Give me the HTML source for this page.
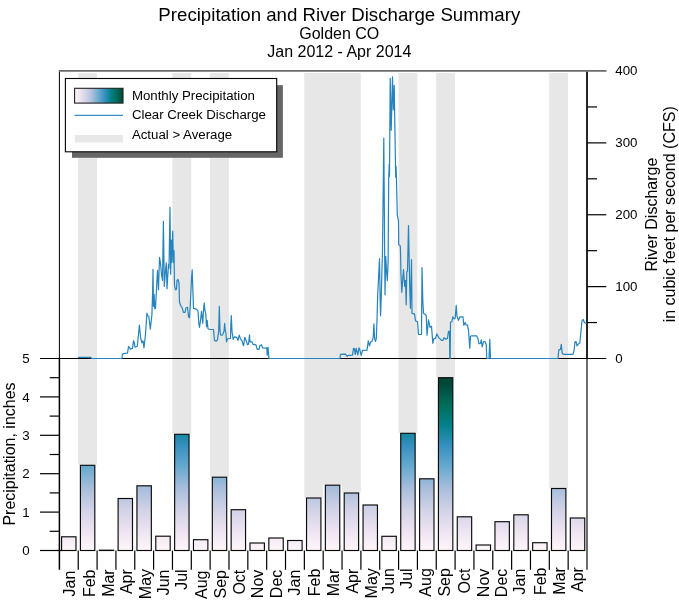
<!DOCTYPE html>
<html lang="en"><head><meta charset="utf-8"><title>Precipitation and River Discharge Summary</title>
<style>
html,body{margin:0;padding:0;background:#fff;}
body{width:679px;height:600px;overflow:hidden;}
svg{display:block;}
text{font-family:"Liberation Sans",Arial,Helvetica,sans-serif;fill:#000;}
.t1{font-size:18.67px;}
.t2{font-size:16px;}
.tk{font-size:13.33px;}
.lg{font-size:13.25px;}
.ax{font-size:16px;}
</style></head><body>
<svg width="679" height="600" viewBox="0 0 679 600">
<defs>
<linearGradient id="gv" gradientUnits="userSpaceOnUse" x1="0" y1="550.5" x2="0" y2="383"><stop offset="0.0" stop-color="#fff7fb"/><stop offset="0.125" stop-color="#ece2f0"/><stop offset="0.25" stop-color="#d0d1e6"/><stop offset="0.375" stop-color="#a6bddb"/><stop offset="0.5" stop-color="#67a9cf"/><stop offset="0.625" stop-color="#3690c0"/><stop offset="0.75" stop-color="#02818a"/><stop offset="0.875" stop-color="#016c59"/><stop offset="1.0" stop-color="#014636"/></linearGradient>
<linearGradient id="gh" x1="0" y1="0" x2="1" y2="0"><stop offset="0.0" stop-color="#fff7fb"/><stop offset="0.125" stop-color="#ece2f0"/><stop offset="0.25" stop-color="#d0d1e6"/><stop offset="0.375" stop-color="#a6bddb"/><stop offset="0.5" stop-color="#67a9cf"/><stop offset="0.625" stop-color="#3690c0"/><stop offset="0.75" stop-color="#02818a"/><stop offset="0.875" stop-color="#016c59"/><stop offset="1.0" stop-color="#014636"/></linearGradient>
</defs>
<rect x="0" y="0" width="679" height="600" fill="#ffffff"/>
<text class="t1" x="339.3" y="21.3" text-anchor="middle">Precipitation and River Discharge Summary</text>
<text class="t2" x="339.3" y="39.3" text-anchor="middle">Golden CO</text>
<text class="t2" x="339.3" y="56.8" text-anchor="middle">Jan 2012 - Apr 2014</text>
<path d="M78.14 73 H96.99 V464.8 H78.14 Z" fill="#e7e7e7"/>
<path d="M172.36 73 H191.2 V433.8 H172.36 Z" fill="#e7e7e7"/>
<path d="M210.04 73 H228.89 V476.7 H210.04 Z" fill="#e7e7e7"/>
<path d="M304.26 73 H360.79 V492.5 H341.94 V484.7 H323.1 V497.5 H304.26 Z" fill="#e7e7e7"/>
<path d="M398.47 73 H417.31 V432.8 H398.47 Z" fill="#e7e7e7"/>
<path d="M436.16 73 H455 V377.2 H436.16 Z" fill="#e7e7e7"/>
<path d="M549.21 73 H568.06 V488 H549.21 Z" fill="#e7e7e7"/>
<g fill="url(#gv)" stroke="#0a0a0a" stroke-width="1.15">
<rect x="61.57" y="536.8" width="14.4" height="13.7"/>
<rect x="80.41" y="465.3" width="14.4" height="85.2"/>
<rect x="99.26" y="550.2" width="14.4" height="0.3"/>
<rect x="118.1" y="498.5" width="14.4" height="52"/>
<rect x="136.94" y="485.8" width="14.4" height="64.7"/>
<rect x="155.79" y="536.2" width="14.4" height="14.3"/>
<rect x="174.63" y="434.3" width="14.4" height="116.2"/>
<rect x="193.47" y="539.7" width="14.4" height="10.8"/>
<rect x="212.31" y="477.2" width="14.4" height="73.3"/>
<rect x="231.16" y="509.7" width="14.4" height="40.8"/>
<rect x="250" y="543" width="14.4" height="7.5"/>
<rect x="268.84" y="538" width="14.4" height="12.5"/>
<rect x="287.69" y="540.5" width="14.4" height="10"/>
<rect x="306.53" y="498" width="14.4" height="52.5"/>
<rect x="325.37" y="485.2" width="14.4" height="65.3"/>
<rect x="344.21" y="493" width="14.4" height="57.5"/>
<rect x="363.06" y="505" width="14.4" height="45.5"/>
<rect x="381.9" y="536.3" width="14.4" height="14.2"/>
<rect x="400.74" y="433.3" width="14.4" height="117.2"/>
<rect x="419.59" y="478.8" width="14.4" height="71.7"/>
<rect x="438.43" y="377.7" width="14.4" height="172.8"/>
<rect x="457.27" y="516.8" width="14.4" height="33.7"/>
<rect x="476.11" y="545" width="14.4" height="5.5"/>
<rect x="494.96" y="521.7" width="14.4" height="28.8"/>
<rect x="513.8" y="514.8" width="14.4" height="35.7"/>
<rect x="532.64" y="542.7" width="14.4" height="7.8"/>
<rect x="551.49" y="488.5" width="14.4" height="62"/>
<rect x="570.33" y="518" width="14.4" height="32.5"/>
</g>
<g stroke="#000" stroke-width="1.2" fill="none">
<path d="M58.8 70.9 H606.5" stroke="#6d696d" stroke-width="1.8"/>
<path d="M59.4 71.8 V358.5" stroke-width="1.0"/>
<path d="M59.4 358.5 V569.8" stroke-width="1.5"/>
<path d="M587 71.8 V358.5" stroke-width="1.7"/>
<path d="M587 358.5 V569.8" stroke-width="1.15"/>
<path d="M40 358.5 H606.3" stroke-width="1.15"/>
<path d="M40 550.5 H61.9"/>
<path d="M587 322.56 H597"/>
<path d="M587 286.62 H606.3"/>
<path d="M587 250.69 H597"/>
<path d="M587 214.75 H606.3"/>
<path d="M587 178.81 H597"/>
<path d="M587 142.88 H606.3"/>
<path d="M587 106.94 H597"/>
<path d="M49.7 531.3 H59.4"/>
<path d="M40 512.1 H59.4"/>
<path d="M49.7 492.9 H59.4"/>
<path d="M40 473.7 H59.4"/>
<path d="M49.7 454.5 H59.4"/>
<path d="M40 435.3 H59.4"/>
<path d="M49.7 416.1 H59.4"/>
<path d="M40 396.9 H59.4"/>
<path d="M49.7 377.7 H59.4"/>
<path d="M78.24 550.5 V569.8"/>
<path d="M97.09 550.5 V569.8"/>
<path d="M115.93 550.5 V569.8"/>
<path d="M134.77 550.5 V569.8"/>
<path d="M153.61 550.5 V569.8"/>
<path d="M172.46 550.5 V569.8"/>
<path d="M191.3 550.5 V569.8"/>
<path d="M210.14 550.5 V569.8"/>
<path d="M228.99 550.5 V569.8"/>
<path d="M247.83 550.5 V569.8"/>
<path d="M266.67 550.5 V569.8"/>
<path d="M285.51 550.5 V569.8"/>
<path d="M304.36 550.5 V569.8"/>
<path d="M323.2 550.5 V569.8"/>
<path d="M342.04 550.5 V569.8"/>
<path d="M360.89 550.5 V569.8"/>
<path d="M379.73 550.5 V569.8"/>
<path d="M398.57 550.5 V569.8"/>
<path d="M417.41 550.5 V569.8"/>
<path d="M436.26 550.5 V569.8"/>
<path d="M455.1 550.5 V569.8"/>
<path d="M473.94 550.5 V569.8"/>
<path d="M492.79 550.5 V569.8"/>
<path d="M511.63 550.5 V569.8"/>
<path d="M530.47 550.5 V569.8"/>
<path d="M549.31 550.5 V569.8"/>
<path d="M568.16 550.5 V569.8"/>
</g>
<path d="M78 357.4 L91 357.4 L91.5 358.5 L121.9 358.5 L122.5 354.1 L124.4 353.4 L127.5 353.2 L128.5 346.6 L129.4 347.2 L130.3 349.3 L132.5 348.4 L133.5 340.9 L134.1 341.6 L135 347.2 L137.3 346.3 L138.4 335.3 L139.4 325.1 L140.6 337.8 L141.9 342.8 L143.1 340.9 L144 347.8 L145.6 333.4 L146.9 313.1 L147.8 315.9 L148.8 316.3 L150.3 329.1 L151.9 314.7 L152.6 292.8 L153 269.3 L153.5 306.3 L154.1 294.3 L154.8 308.8 L155.5 308.3 L156.3 292.3 L157.5 270.3 L158.5 289.8 L159.5 257.3 L160.5 263.3 L161.5 274.3 L162.5 280.3 L163.4 221.3 L164.3 286.3 L165.5 270.3 L166.3 262.8 L167 288.8 L168.5 264.3 L169 268.3 L170 207.3 L170.7 274.3 L171.4 240 L171.8 262.3 L172.7 231 L173.4 262.3 L174 250.6 L174.5 285.3 L175.5 289.8 L176.5 289.3 L177 280.3 L178 279.3 L179 283.3 L179.5 302.3 L181 306.3 L182 307.3 L183.5 312.3 L185 312.3 L186 307.8 L187.5 307.3 L188.5 316.3 L189.5 317.8 L190.5 300.3 L191.5 278.3 L192.2 269.8 L192.8 288.3 L193.5 308.3 L196 308.8 L198 310.8 L198.8 323.3 L199.5 327.3 L200.5 320.3 L201.5 311.3 L202.2 318.3 L202.8 323.3 L203.5 310.3 L204.2 303.1 L205 311.3 L205.8 313.3 L206.5 326.8 L207.2 320.3 L208 328.8 L210 329.5 L213.5 329.5 L214.5 340.3 L216 341.3 L217.5 339.8 L218.7 330.3 L219.3 306.3 L220 330.3 L220.5 334.8 L222.5 335.1 L224 331.3 L224.7 323.3 L225.2 330.3 L225.8 332.3 L226.5 341.8 L227.5 338.8 L230.5 338.5 L230.8 325.3 L231.3 315.5 L232 331.3 L233.2 339.3 L234.5 336.8 L236.5 337.3 L238 340.3 L239.2 335.1 L240.5 338.8 L242 340.8 L243.5 345.8 L244.8 337.3 L246 340.3 L247.5 344.8 L248.5 344.3 L249.5 334.8 L250 341.8 L252 341.8 L253 344.3 L256 344.8 L257.2 349.3 L259 349.3 L259.8 345.8 L261.5 344.8 L262.5 347.8 L266 348.1 L266.8 347.8 L267.2 355.3 L268 347.3 L269 358.5 L270 358.5 L340 358.5 L340.5 354.3 L345.5 354.1 L347.2 356.3 L348.5 355.3 L352.5 355.1 L353.5 348.3 L354.5 348.8 L355.2 354.3 L356.2 348.3 L357.8 354.8 L359 347.8 L360 350.3 L361.2 355.3 L362.5 350.3 L367 350.1 L368.3 340.8 L369.5 345.8 L370.5 342.3 L372 341.3 L373.2 337.3 L373.9 323.8 L374.6 338.3 L375.5 341.5 L376.3 338.3 L377 320.3 L377.7 295.3 L379.5 258.7 L380.2 300.3 L380.6 315.8 L381.3 295.3 L382.5 250.3 L383.8 138.1 L384.7 260.3 L385 294.8 L385.7 256.3 L386.5 270.3 L387.3 280.6 L388.1 262.3 L388.7 179.3 L389.2 164.3 L389.5 176.3 L390.2 78.3 L391.2 130.3 L392.5 76.8 L393.3 109.8 L394.2 85.3 L395.7 177.3 L396.1 166.3 L396.5 180.3 L397.3 215.3 L398.5 220.6 L398.7 244.6 L400.3 246 L400.6 255.3 L400.9 272.3 L401.8 292.3 L403.5 269.6 L404.7 286.3 L405.5 280.3 L406.2 304.8 L406.8 271.8 L407.5 271.3 L408.5 225.6 L409.8 290.3 L410.4 308.3 L411.5 259.6 L412 313.3 L414.5 313.8 L415.5 320.8 L417.5 321.8 L418.5 334.3 L421.5 334.5 L422 267.6 L422.8 300.3 L423.5 313.3 L426.2 315.3 L427 335.3 L428.5 319.8 L430 327.3 L431.5 326.3 L432.8 343.3 L433.8 338.8 L435.5 338.3 L436.8 333.8 L438.5 337.3 L441.5 340.3 L443 340.3 L444 337.8 L446 339.3 L447.5 338.3 L448.5 331.3 L449.5 331.3 L449.8 358.5 L450.2 358.5 L450.5 322.3 L451.8 321.8 L452.8 316.8 L454.2 318.8 L455.2 318.3 L456.2 305.3 L457 316.3 L458.5 320.3 L460 316.8 L463 316.8 L463.8 325.3 L465.2 322.5 L466 324.8 L467.5 325.1 L468.5 330.3 L469.8 348.3 L470.5 336.3 L471.5 335.8 L476.5 335.8 L478 338.8 L479 343.8 L480.5 343.3 L481.2 339.8 L482.2 346.8 L483.5 341.8 L485 341.5 L486.2 344.3 L486.8 358.5 L489 358.5 L489.8 339.3 L490.5 358.5 L558 358.5 L558.8 349.8 L560.5 349.3 L561.3 344.3 L562.2 353.3 L563.5 354.3 L573 354.3 L574 350.8 L575 341.8 L576 341.5 L577 345.8 L578.5 343.8 L579.8 343.3 L581 331.3 L582 320.8 L583.2 319.5 L584.5 322.8 L586.5 323.5" fill="none" stroke="#2583bd" stroke-width="1.2" stroke-linejoin="round"/>
<text class="tk" x="615.3" y="363.1">0</text>
<text class="tk" x="615.3" y="291.23">100</text>
<text class="tk" x="615.3" y="219.35">200</text>
<text class="tk" x="615.3" y="147.47">300</text>
<text class="tk" x="615.3" y="74.6">400</text>
<text class="tk" x="29.6" y="555.1" text-anchor="end">0</text>
<text class="tk" x="29.6" y="516.7" text-anchor="end">1</text>
<text class="tk" x="29.6" y="478.3" text-anchor="end">2</text>
<text class="tk" x="29.6" y="439.9" text-anchor="end">3</text>
<text class="tk" x="29.6" y="401.5" text-anchor="end">4</text>
<text class="tk" x="29.6" y="363.1" text-anchor="end">5</text>
<text class="ax" transform="translate(74.92 570.7) rotate(-90)" text-anchor="end">Jan</text>
<text class="ax" transform="translate(94.66 569.5) rotate(-90)" text-anchor="end">Feb</text>
<text class="ax" transform="translate(114.21 569.3) rotate(-90)" text-anchor="end">Mar</text>
<text class="ax" transform="translate(132.25 569.2) rotate(-90)" text-anchor="end">Apr</text>
<text class="ax" transform="translate(151.09 568.9) rotate(-90)" text-anchor="end">May</text>
<text class="ax" transform="translate(168.94 569.5) rotate(-90)" text-anchor="end">Jun</text>
<text class="ax" transform="translate(187.08 569.4) rotate(-90)" text-anchor="end">Jul</text>
<text class="ax" transform="translate(206.62 570.5) rotate(-90)" text-anchor="end">Aug</text>
<text class="ax" transform="translate(225.76 570) rotate(-90)" text-anchor="end">Sep</text>
<text class="ax" transform="translate(245.01 569.7) rotate(-90)" text-anchor="end">Oct</text>
<text class="ax" transform="translate(263.25 569.7) rotate(-90)" text-anchor="end">Nov</text>
<text class="ax" transform="translate(281.79 569.7) rotate(-90)" text-anchor="end">Dec</text>
<text class="ax" transform="translate(299.94 569.7) rotate(-90)" text-anchor="end">Jan</text>
<text class="ax" transform="translate(320.38 568.7) rotate(-90)" text-anchor="end">Feb</text>
<text class="ax" transform="translate(339.22 568.7) rotate(-90)" text-anchor="end">Mar</text>
<text class="ax" transform="translate(357.66 568.7) rotate(-90)" text-anchor="end">Apr</text>
<text class="ax" transform="translate(376.51 568.2) rotate(-90)" text-anchor="end">May</text>
<text class="ax" transform="translate(393.75 568) rotate(-90)" text-anchor="end">Jun</text>
<text class="ax" transform="translate(412.39 568.4) rotate(-90)" text-anchor="end">Jul</text>
<text class="ax" transform="translate(431.44 568.2) rotate(-90)" text-anchor="end">Aug</text>
<text class="ax" transform="translate(449.98 568.1) rotate(-90)" text-anchor="end">Sep</text>
<text class="ax" transform="translate(470.12 568.6) rotate(-90)" text-anchor="end">Oct</text>
<text class="ax" transform="translate(488.66 568.7) rotate(-90)" text-anchor="end">Nov</text>
<text class="ax" transform="translate(506.81 568.7) rotate(-90)" text-anchor="end">Dec</text>
<text class="ax" transform="translate(525.45 568.7) rotate(-90)" text-anchor="end">Jan</text>
<text class="ax" transform="translate(545.69 567.5) rotate(-90)" text-anchor="end">Feb</text>
<text class="ax" transform="translate(564.64 567.1) rotate(-90)" text-anchor="end">Mar</text>
<text class="ax" transform="translate(582.88 567.1) rotate(-90)" text-anchor="end">Apr</text>
<text class="ax" transform="translate(15 454) rotate(-90)" text-anchor="middle">Precipitation, inches</text>
<text class="ax" transform="translate(657 214.6) rotate(-90)" text-anchor="middle">River Discharge</text>
<text class="ax" transform="translate(674.6 214.3) rotate(-90)" text-anchor="middle">in cubic feet per second (CFS)</text>
<rect x="72" y="85.2" width="210.9" height="72.6" fill="#666666"/>
<rect x="65.4" y="78.5" width="211.3" height="73.3" fill="#ffffff" stroke="#000" stroke-width="1.1"/>
<rect x="74.6" y="88.3" width="48.4" height="14.8" fill="url(#gh)" stroke="#222" stroke-width="1.1"/>
<path d="M74.5 115.4 H123" stroke="#3590cb" stroke-width="1.1" fill="none"/>
<rect x="75" y="135" width="48" height="7.5" fill="#e8e8e8"/>
<text class="lg" x="131.9" y="99.5">Monthly Precipitation</text>
<text class="lg" x="131.9" y="119.3">Clear Creek Discharge</text>
<text class="lg" x="131.9" y="138.6">Actual &gt; Average</text>
</svg>
</body></html>
